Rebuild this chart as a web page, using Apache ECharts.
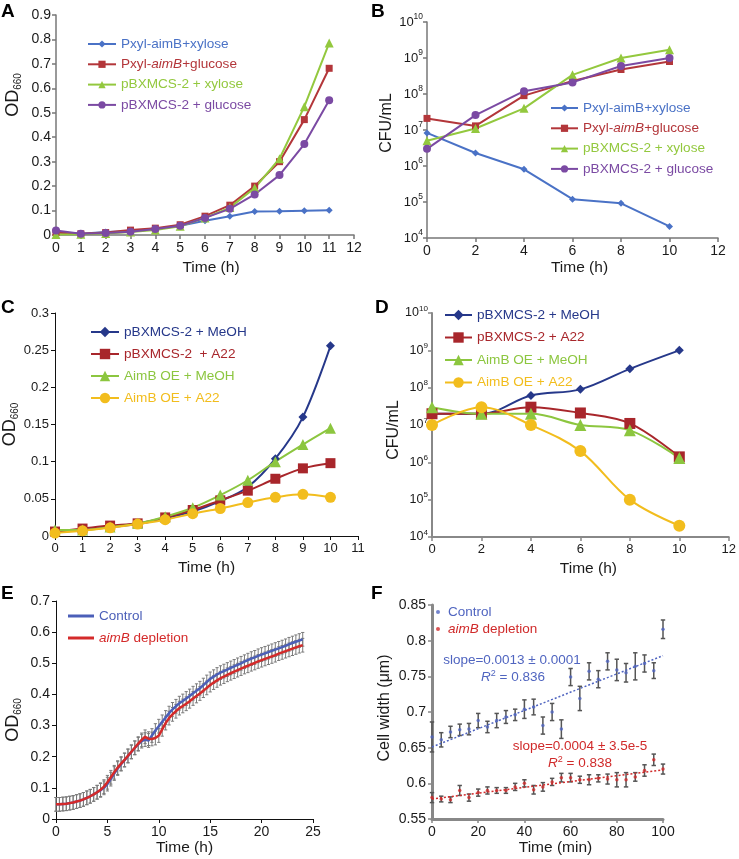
<!DOCTYPE html>
<html><head><meta charset="utf-8">
<script src="https://cdn.jsdelivr.net/npm/echarts@6/dist/echarts.min.js"></script>
<style>html,body{margin:0;padding:0;background:#fff}#c{width:739px;height:859px}</style>
</head><body><div id="c"></div>
<script>
// ---------- Panel A : OD660 vs time ----------
const timeA = [0,1,2,3,4,5,6,7,8,9,10,11];
const odA_xylAimB = [0.010,0.005,0.012,0.015,0.025,0.038,0.058,0.077,0.096,0.097,0.099,0.101];
const odA_gluAimB = [0.010,0.005,0.010,0.020,0.028,0.042,0.077,0.122,0.200,0.300,0.472,0.682];
const odA_xylVec  = [0.002,0.003,0.006,0.012,0.020,0.036,0.070,0.112,0.192,0.312,0.525,0.785];
const odA_gluVec  = [0.018,0.005,0.008,0.013,0.025,0.038,0.070,0.107,0.166,0.245,0.372,0.551];
// ---------- Panel B : CFU/mL ----------
const timeB = [0,2,4,6,8,10];
const cfuB_xylAimB = [8.3e6,2.3e6,8.1e5,1.2e5,9.2e4,2.1e4];
const cfuB_gluAimB = [2.1e7,1.3e7,9.0e7,2.3e8,4.8e8,8.0e8];
const cfuB_xylVec  = [5.0e6,1.1e7,4.0e7,3.4e8,1.0e9,1.7e9];
const cfuB_gluVec  = [3.0e6,2.6e7,1.2e8,2.1e8,6.0e8,1.0e9];
// ---------- Panel C : OD660 ----------
const timeC = [0,1,2,3,4,5,6,7,8,9,10];
const odC_vecMeOH = [0.005,0.008,0.012,0.016,0.024,0.033,0.047,0.066,0.104,0.160,0.256];
const odC_vecA22  = [0.006,0.010,0.014,0.017,0.025,0.035,0.048,0.061,0.077,0.091,0.098];
const odC_oeMeOH  = [0.008,0.008,0.012,0.017,0.026,0.038,0.055,0.075,0.100,0.123,0.145];
const odC_oeA22   = [0.004,0.007,0.011,0.016,0.022,0.030,0.037,0.045,0.052,0.056,0.052];
// ---------- Panel D : CFU/mL ----------
const timeD = [0,2,4,6,8,10];
const cfuD_vecMeOH = [2.0e7,2.0e7,6.2e7,9.0e7,3.2e8,1.0e9];
const cfuD_vecA22  = [2.0e7,2.0e7,3.0e7,2.1e7,1.1e7,1.4e6];
const cfuD_oeMeOH  = [3.0e7,2.0e7,2.0e7,1.0e7,7.2e6,1.3e6];
const cfuD_oeA22   = [1.0e7,3.0e7,1.0e7,2.0e6,1.0e5,2.0e4];
// ---------- Panel E : growth curves (sampled every 20 min, 0-24 h) ----------
const odE_depletion = [0.047,0.047,0.048,0.049,0.051,0.053,0.056,0.059,0.063,0.068,0.073,0.079,0.086,0.094,0.104,0.118,0.134,0.150,0.165,0.178,0.190,0.203,0.216,0.229,0.242,0.254,0.264,0.258,0.257,0.260,0.268,0.288,0.308,0.324,0.336,0.346,0.356,0.363,0.370,0.378,0.387,0.395,0.403,0.412,0.421,0.430,0.438,0.445,0.452,0.457,0.463,0.468,0.473,0.478,0.483,0.488,0.492,0.497,0.501,0.506,0.510,0.514,0.518,0.522,0.526,0.531,0.535,0.539,0.543,0.547,0.551,0.555,0.558];
const odE_control = [0.047,0.047,0.048,0.049,0.051,0.053,0.056,0.059,0.063,0.068,0.073,0.079,0.086,0.092,0.100,0.112,0.128,0.146,0.162,0.176,0.189,0.202,0.215,0.228,0.240,0.250,0.255,0.252,0.268,0.284,0.298,0.312,0.326,0.340,0.352,0.362,0.372,0.379,0.387,0.395,0.404,0.412,0.420,0.430,0.440,0.450,0.457,0.464,0.470,0.475,0.480,0.485,0.490,0.495,0.500,0.505,0.510,0.515,0.519,0.524,0.528,0.532,0.536,0.540,0.544,0.548,0.552,0.556,0.561,0.565,0.569,0.573,0.577];
const timeE = odE_control.map((_, i) => i * 20 / 60);   // sampling times in h
const errE = 0.022;                                     // error-bar half height
// ---------- Panel F : cell width ----------
const timeF = [0,4,8,12,16,20,24,28,32,36,40,44,48,52,56,60,64,68,72,76,80,84,88,92,96,100];
const wF_control = [0.665,0.661,0.672,0.675,0.676,0.688,0.679,0.688,0.693,0.696,0.704,0.707,0.681,0.700,0.676,0.749,0.719,0.757,0.746,0.771,0.759,0.755,0.764,0.768,0.758,0.816];
const eF_control = [0.021,0.010,0.008,0.008,0.008,0.010,0.008,0.010,0.009,0.008,0.013,0.011,0.012,0.012,0.013,0.012,0.017,0.012,0.012,0.012,0.015,0.013,0.019,0.012,0.011,0.013];
const wF_depletion = [0.580,0.578,0.577,0.590,0.580,0.587,0.590,0.590,0.590,0.595,0.600,0.591,0.595,0.602,0.608,0.608,0.605,0.605,0.607,0.606,0.605,0.605,0.609,0.618,0.633,0.620];
const eF_depletion = [0.007,0.004,0.004,0.007,0.005,0.005,0.005,0.004,0.004,0.005,0.005,0.006,0.006,0.005,0.006,0.006,0.005,0.007,0.005,0.007,0.010,0.010,0.006,0.008,0.008,0.007];
const fitF_control = [[0, 0.651], [100, 0.779]];
const fitF_depletion = [[0, 0.578], [100, 0.619]];

// ---------- styles ----------
const FONT = '"Liberation Sans", Arial, Helvetica, sans-serif';
const NARROW = FONT;
const C1 = {blue:'#4a72c6', red:'#b3363a', green:'#93c83e', purple:'#7b4aa3'};
const C2 = {navy:'#26388a', red:'#a8262b', green:'#8cc63f', yellow:'#f2bd1d'};
const CE = {blue:'#4b5fb8', red:'#d42a2a'};
const CF = {blue:'#5065c0', red:'#d02a2a'};

const pairs = (xs, ys) => xs.map((x, i) => [x, ys[i]]);

function axisStyle(color, width, fs, family, labelMargin) {
  return {
    axisLine: {show: true, onZero: false, lineStyle: {color: color, width: width}},
    axisTick: {show: true, length: 4, lineStyle: {color: color, width: Math.min(width, 1.5)}},
    splitLine: {show: false},
    axisLabel: {color: '#1a1a1a', fontSize: fs, fontFamily: family, margin: labelMargin}
  };
}
function xAx(grid, min, max, interval, color, width, fs, family, nameGap, namePad) {
  return Object.assign({
    type: 'value', gridIndex: grid, min: min, max: max, interval: interval,
    name: 'Time (h)', nameLocation: 'middle', nameGap: nameGap,
    nameTextStyle: {color: '#1a1a1a', fontSize: 15.5, fontFamily: FONT, padding: namePad || 0}
  }, axisStyle(color, width, fs, family, 6));
}
const supFmt = v => '{b|10}{s|' + Math.round(Math.log10(v)) + '}';
function logRich(fs, family) {
  return {b: {fontSize: fs, fontFamily: family, color: '#1a1a1a'},
          s: {fontSize: fs * 0.65, fontFamily: family, color: '#1a1a1a', padding: [0, 0, fs * 0.75, 0]}};
}
const odName = '{a|OD}{s|660}';
const odRich = {a: {fontSize: 18, fontFamily: FONT, color: '#1a1a1a'},
                s: {fontSize: 10, fontFamily: FONT, color: '#1a1a1a', padding: [9, 0, 0, 0]}};

function errRender(capHalf, color, width) {
  return function (params, api) {
    const x = api.value(0), lo = api.value(1), hi = api.value(2);
    const a = api.coord([x, hi]), b = api.coord([x, lo]);
    const st = {stroke: color, lineWidth: width};
    return {type: 'group', children: [
      {type: 'line', shape: {x1: a[0], y1: a[1], x2: b[0], y2: b[1]}, style: st},
      {type: 'line', shape: {x1: a[0] - capHalf, y1: a[1], x2: a[0] + capHalf, y2: a[1]}, style: st},
      {type: 'line', shape: {x1: b[0] - capHalf, y1: b[1], x2: b[0] + capHalf, y2: b[1]}, style: st}
    ]};
  };
}

// legend rich-text styles
function tok(color, fs, italic) {
  return {color: color, fontSize: fs, fontFamily: FONT, fontStyle: italic ? 'italic' : 'normal'};
}
const legendFS = 13.6;
const RICH = {
  ab: tok(C1.blue, legendFS), ar: tok(C1.red, legendFS), ari: tok(C1.red, legendFS, true),
  ag: tok(C1.green, legendFS), ap: tok(C1.purple, legendFS),
  cn: tok(C2.navy, legendFS), cr: tok(C2.red, legendFS), cg: tok(C2.green, legendFS), cy: tok(C2.yellow, legendFS),
  eb: tok(CE.blue, 13.5), er: tok(CE.red, 13.5), eri: tok(CE.red, 13.5, true),
  fb: tok(CF.blue, 13.5), fr: tok(CF.red, 13.5), fri: tok(CF.red, 13.5, true)
};
const LEG = {
  'Pxyl-aimB+xylose': '{ab|Pxyl-aimB+xylose}',
  'Pxyl-aimB+glucose': '{ar|Pxyl-}{ari|aimB}{ar|+glucose}',
  'pBXMCS-2 + xylose': '{ag|pBXMCS-2 + xylose}',
  'pBXMCS-2 + glucose': '{ap|pBXMCS-2 + glucose}',
  'pBXMCS-2 + MeOH': '{cn|pBXMCS-2 + MeOH}',
  'pBXMCS-2  + A22': '{cr|pBXMCS-2  + A22}',
  'pBXMCS-2 + A22': '{cr|pBXMCS-2 + A22}',
  'AimB OE + MeOH': '{cg|AimB OE + MeOH}',
  'AimB OE + A22': '{cy|AimB OE + A22}',
  'Control': '{eb|Control}',
  'aimB depletion': '{eri|aimB}{er| depletion}',
  'Control (cells)': '{fb|Control}',
  'aimB depletion (cells)': '{fri|aimB}{fr| depletion}'
};
function legend(names, left, top, iw, ih, gap) {
  return {data: names, left: left, top: top, orient: 'vertical', itemWidth: iw, itemHeight: ih,
          itemGap: gap, selectedMode: false, padding: 0,
          formatter: n => LEG[n], textStyle: {fontSize: legendFS, fontFamily: FONT, rich: RICH}};
}

const namesAB = ['Pxyl-aimB+xylose','Pxyl-aimB+glucose','pBXMCS-2 + xylose','pBXMCS-2 + glucose'];
const namesC = ['pBXMCS-2 + MeOH','pBXMCS-2  + A22','AimB OE + MeOH','AimB OE + A22'];
const namesD = ['pBXMCS-2 + MeOH','pBXMCS-2 + A22','AimB OE + MeOH','AimB OE + A22'];

function ln(name, xi, data, color, symbol, size, extra) {
  return Object.assign({
    type: 'line', name: name, xAxisIndex: xi, yAxisIndex: xi, data: data,
    symbol: symbol, symbolSize: size, showSymbol: true,
    lineStyle: {color: color, width: 2}, itemStyle: {color: color},
    emphasis: {disabled: true}, clip: false
  }, extra || {});
}

const option = {
  animation: false,
  backgroundColor: '#fff',
  grid: [
    {left: 56, top: 15, width: 298, height: 220},
    {left: 427, top: 22, width: 291, height: 216},
    {left: 55, top: 313, width: 303, height: 223},
    {left: 432, top: 313, width: 298, height: 224},
    {left: 56, top: 601, width: 257, height: 218},
    {left: 432, top: 605, width: 231, height: 214}
  ],
  xAxis: [
    xAx(0, 0, 12, 1, '#777', 1.5, 14, FONT, 25, [0, 0, 0, 12]),
    xAx(1, 0, 12, 2, '#777', 1.5, 14, FONT, 22, [0, 0, 0, 14]),
    xAx(2, 0, 11, 1, '#111', 1, 13, NARROW, 24),
    xAx(3, 0, 12, 2, '#888', 2, 13, NARROW, 24, [0, 0, 0, 16]),
    xAx(4, 0, 25, 5, '#111', 1, 14, FONT, 19),
    Object.assign(xAx(5, 0, 100, 20, '#888', 3, 14, FONT, 19, [0, 0, 0, 16]), {name: 'Time (min)'})
  ],
  yAxis: [
    Object.assign({type: 'value', gridIndex: 0, min: 0, max: 0.9, interval: 0.1,
      name: odName, nameLocation: 'middle', nameGap: 33,
      nameTextStyle: {rich: odRich, padding: [0, 0, 0, 60]}}, axisStyle('#777', 1.5, 14, FONT, 5)),
    Object.assign({type: 'log', logBase: 10, gridIndex: 1, min: 1e4, max: 1e10, splitNumber: 6,
      name: 'CFU/mL', nameLocation: 'middle', nameGap: 32,
      nameTextStyle: {color: '#1a1a1a', fontSize: 16, fontFamily: FONT, padding: [0, 0, 0, 14]}},
      axisStyle('#777', 1.5, 13, FONT, 4), {axisLabel: {formatter: supFmt, rich: logRich(13, FONT), margin: 4}}),
    Object.assign({type: 'value', gridIndex: 2, min: 0, max: 0.3, interval: 0.05,
      name: odName, nameLocation: 'middle', nameGap: 35,
      nameTextStyle: {rich: odRich}}, axisStyle('#111', 1, 13, NARROW, 6)),
    Object.assign({type: 'log', logBase: 10, gridIndex: 3, min: 1e4, max: 1e10, splitNumber: 6,
      name: 'CFU/mL', nameLocation: 'middle', nameGap: 24,
      nameTextStyle: {color: '#1a1a1a', fontSize: 16, fontFamily: FONT, padding: [0, 10, 0, 0]}},
      axisStyle('#888', 2, 12.5, NARROW, 4), {axisLabel: {formatter: supFmt, rich: logRich(12.5, NARROW), margin: 4}}),
    Object.assign({type: 'value', gridIndex: 4, min: 0, max: 0.7, interval: 0.1,
      name: odName, nameLocation: 'middle', nameGap: 33,
      nameTextStyle: {rich: odRich, padding: [0, 20, 0, 0]}}, axisStyle('#111', 1, 14, FONT, 6)),
    Object.assign({type: 'value', gridIndex: 5, min: 0.55, max: 0.85, interval: 0.05,
      name: 'Cell width (\u03bcm)', nameLocation: 'middle', nameGap: 39,
      nameTextStyle: {color: '#1a1a1a', fontSize: 16, fontFamily: FONT, padding: [0, 0, 0, 8]}},
      axisStyle('#888', 3, 14, FONT, 6))
  ],
  legend: [
    legend(namesAB, 87, 37, 28, 9, 6.3),
    Object.assign(legend(namesAB, 550, 101, 27, 9, 6.3), {z: 10}),
    legend(namesC, 90, 325, 28, 13, 8),
    legend(namesD, 444, 308, 27, 13, 8.5),
    legend([{name: 'Control', icon: 'rect'}, {name: 'aimB depletion', icon: 'rect'}], 68, 609, 26, 3, 8),
    legend(['Control (cells)', 'aimB depletion (cells)'], 436, 605, 10, 4, 3)
  ],
  graphic: [
    ...[['A', 1, 12], ['B', 371, 12], ['C', 1, 308], ['D', 375, 308], ['E', 1, 594], ['F', 371, 594]].map(p => ({
      type: 'text', left: p[1], top: p[2] - 10,
      style: {text: p[0], fontSize: 19, fontWeight: 'bold', fontFamily: FONT, fill: '#000'}
    })),
    {type: 'text', x: 512, y: 660, style: {text: 'slope=0.0013 \u00b1 0.0001', fontSize: 13.5, fontFamily: FONT,
      fill: CF.blue, align: 'center', verticalAlign: 'middle'}},
    {type: 'text', x: 545, y: 677, style: {text: '{i|R}{s|2}{n| = 0.836}', align: 'right', verticalAlign: 'middle',
      rich: {i: {fontSize: 13.5, fontFamily: FONT, fontStyle: 'italic', fill: CF.blue},
             s: {fontSize: 9, fontFamily: FONT, fill: CF.blue, padding: [0, 0, 7, 0]},
             n: {fontSize: 13.5, fontFamily: FONT, fill: CF.blue}}}},
    {type: 'text', x: 580, y: 746, style: {text: 'slope=0.0004 \u00b1 3.5e-5', fontSize: 13.5, fontFamily: FONT,
      fill: CF.red, align: 'center', verticalAlign: 'middle'}},
    {type: 'text', x: 612, y: 763, style: {text: '{i|R}{s|2}{n| = 0.838}', align: 'right', verticalAlign: 'middle',
      rich: {i: {fontSize: 13.5, fontFamily: FONT, fontStyle: 'italic', fill: CF.red},
             s: {fontSize: 9, fontFamily: FONT, fill: CF.red, padding: [0, 0, 7, 0]},
             n: {fontSize: 13.5, fontFamily: FONT, fill: CF.red}}}}
  ],
  series: [
    // A
    ln('Pxyl-aimB+xylose', 0, pairs(timeA, odA_xylAimB), C1.blue, 'diamond', 7),
    ln('Pxyl-aimB+glucose', 0, pairs(timeA, odA_gluAimB), C1.red, 'rect', 7),
    ln('pBXMCS-2 + xylose', 0, pairs(timeA, odA_xylVec), C1.green, 'triangle', 9),
    ln('pBXMCS-2 + glucose', 0, pairs(timeA, odA_gluVec), C1.purple, 'circle', 8),
    // B
    ln('Pxyl-aimB+xylose', 1, pairs(timeB, cfuB_xylAimB), C1.blue, 'diamond', 7),
    ln('Pxyl-aimB+glucose', 1, pairs(timeB, cfuB_gluAimB), C1.red, 'rect', 7),
    ln('pBXMCS-2 + xylose', 1, pairs(timeB, cfuB_xylVec), C1.green, 'triangle', 9),
    ln('pBXMCS-2 + glucose', 1, pairs(timeB, cfuB_gluVec), C1.purple, 'circle', 8),
    // C
    ln('pBXMCS-2 + MeOH', 2, pairs(timeC, odC_vecMeOH), C2.navy, 'diamond', 9, {smooth: 0.35}),
    ln('pBXMCS-2  + A22', 2, pairs(timeC, odC_vecA22), C2.red, 'rect', 10, {smooth: 0.35}),
    ln('AimB OE + MeOH', 2, pairs(timeC, odC_oeMeOH), C2.green, 'triangle', 11, {smooth: 0.35}),
    ln('AimB OE + A22', 2, pairs(timeC, odC_oeA22), C2.yellow, 'circle', 11, {smooth: 0.35}),
    // D
    ln('pBXMCS-2 + MeOH', 3, pairs(timeD, cfuD_vecMeOH), C2.navy, 'diamond', 9, {smooth: 0.35}),
    ln('pBXMCS-2 + A22', 3, pairs(timeD, cfuD_vecA22), C2.red, 'rect', 11, {smooth: 0.35}),
    ln('AimB OE + MeOH', 3, pairs(timeD, cfuD_oeMeOH), C2.green, 'triangle', 12, {smooth: 0.35}),
    ln('AimB OE + A22', 3, pairs(timeD, cfuD_oeA22), C2.yellow, 'circle', 12, {smooth: 0.35}),
    // E error bars + curves
    {type: 'custom', xAxisIndex: 4, yAxisIndex: 4, silent: true, z: 1,
     renderItem: errRender(1.6, '#7a7a7a', 1),
     data: timeE.map((t, i) => [t, odE_control[i] - errE, odE_control[i] + errE]), encode: {x: 0, y: [1, 2]}},
    {type: 'custom', xAxisIndex: 4, yAxisIndex: 4, silent: true, z: 1,
     renderItem: errRender(1.6, '#7a7a7a', 1),
     data: timeE.map((t, i) => [t, odE_depletion[i] - errE, odE_depletion[i] + errE]), encode: {x: 0, y: [1, 2]}},
    ln('Control', 4, pairs(timeE, odE_control), CE.blue, 'none', 0, {lineStyle: {color: CE.blue, width: 2.5}, z: 3}),
    ln('aimB depletion', 4, pairs(timeE, odE_depletion), CE.red, 'none', 0, {lineStyle: {color: CE.red, width: 2.5}, z: 4}),
    // F
    {type: 'custom', xAxisIndex: 5, yAxisIndex: 5, silent: true, z: 1,
     renderItem: errRender(2.2, '#555', 1.5),
     data: timeF.map((t, i) => [t, wF_control[i] - eF_control[i], wF_control[i] + eF_control[i]]), encode: {x: 0, y: [1, 2]}},
    {type: 'custom', xAxisIndex: 5, yAxisIndex: 5, silent: true, z: 1,
     renderItem: errRender(2.2, '#555', 1.5),
     data: timeF.map((t, i) => [t, wF_depletion[i] - eF_depletion[i], wF_depletion[i] + eF_depletion[i]]), encode: {x: 0, y: [1, 2]}},
    {type: 'line', xAxisIndex: 5, yAxisIndex: 5, data: fitF_control, symbol: 'none', silent: true,
     lineStyle: {color: CF.blue, width: 1.5, type: [2, 2]}, z: 2},
    {type: 'line', xAxisIndex: 5, yAxisIndex: 5, data: fitF_depletion, symbol: 'none', silent: true,
     lineStyle: {color: CF.red, width: 1.5, type: [2, 2]}, z: 2},
    {type: 'scatter', name: 'Control (cells)', xAxisIndex: 5, yAxisIndex: 5, data: pairs(timeF, wF_control),
     symbolSize: 3.5, itemStyle: {color: CF.blue}, z: 3, clip: false},
    {type: 'scatter', name: 'aimB depletion (cells)', xAxisIndex: 5, yAxisIndex: 5, data: pairs(timeF, wF_depletion),
     symbolSize: 3.5, itemStyle: {color: CF.red}, z: 3, clip: false}
  ]
};
const chart = echarts.init(document.getElementById('c'), null, {renderer: 'canvas'});
chart.setOption(option);
</script>
</body></html>
